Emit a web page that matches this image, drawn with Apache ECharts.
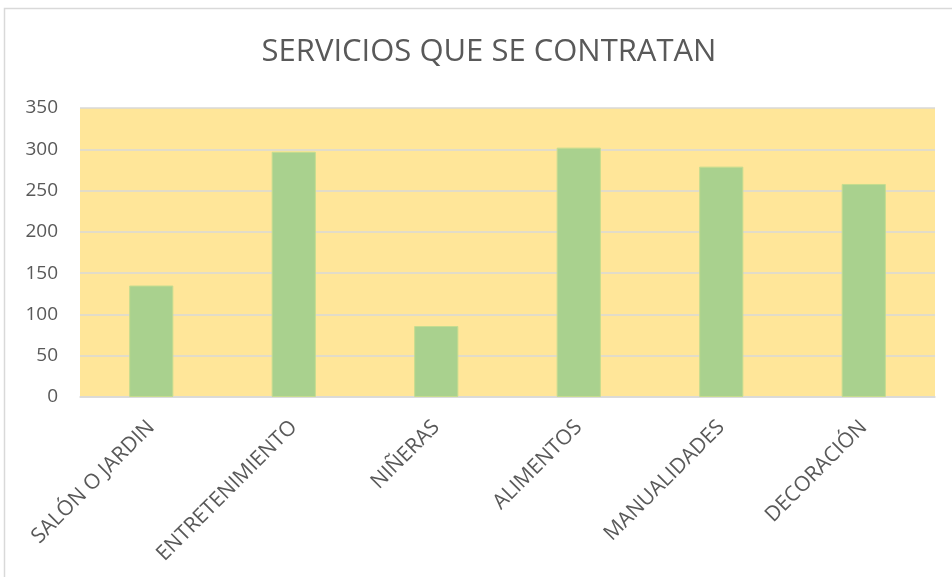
<!DOCTYPE html>
<html>
<head>
<meta charset="utf-8">
<style>
  html, body { margin: 0; padding: 0; background: #fff; }
  #chart { width: 952px; height: 577px; }
</style>
<script src="https://cdn.jsdelivr.net/npm/echarts@6/dist/echarts.min.js"></script>
</head>
<body>
<div id="chart"></div>
<script>
  // servicios y cuántos los contratan
  const categories = ['SALÓN O JARDIN', 'ENTRETENIMIENTO', 'NIÑERAS', 'ALIMENTOS', 'MANUALIDADES', 'DECORACIÓN'];
  const values = [135, 297, 86, 302, 279, 258];
  const yTicks = [0, 50, 100, 150, 200, 250, 300, 350];

  const font = '"Open Sans", "Liberation Sans", sans-serif';
  const chart = echarts.init(document.getElementById('chart'));
  const option = {
    animation: false,
    backgroundColor: '#fff',
    title: {
      text: 'SERVICIOS QUE SE CONTRATAN',
      left: 484,
      top: 32,
      textAlign: 'center',
      textStyle: { color: '#595959', fontSize: 31, fontWeight: 'normal', fontFamily: font }
    },
    graphic: [{
      type: 'rect',
      shape: { x: 4.5, y: 8.5, width: 1000, height: 1000 },
      style: { fill: 'none', stroke: '#d9d9d9', lineWidth: 1.5 },
      silent: true
    }],
    grid: {
      left: 80, right: 17, top: 108, bottom: 180,
      show: true, backgroundColor: '#FFE699', borderWidth: 0
    },
    xAxis: {
      type: 'category',
      data: categories,
      axisLine: { lineStyle: { color: '#d9d9d9', width: 1.5 } },
      axisTick: { show: false },
      axisLabel: { rotate: 45, margin: 27, color: '#595959', fontSize: 21, fontFamily: font, interval: 0 }
    },
    yAxis: {
      type: 'value',
      min: yTicks[0],
      max: yTicks[yTicks.length - 1],
      interval: 50,
      axisLine: { show: false },
      axisTick: { show: false },
      splitLine: { lineStyle: { color: '#d9d9d9', width: 1.5 } },
      axisLabel: { margin: 22, color: '#595959', fontSize: 19, fontFamily: font }
    },
    series: [{
      type: 'bar',
      data: values,
      barWidth: '31%',
      itemStyle: { color: '#A9D18E', borderColor: '#C5DC8F', borderWidth: 1 }
    }]
  };
  chart.setOption(option);
</script>
</body>
</html>
